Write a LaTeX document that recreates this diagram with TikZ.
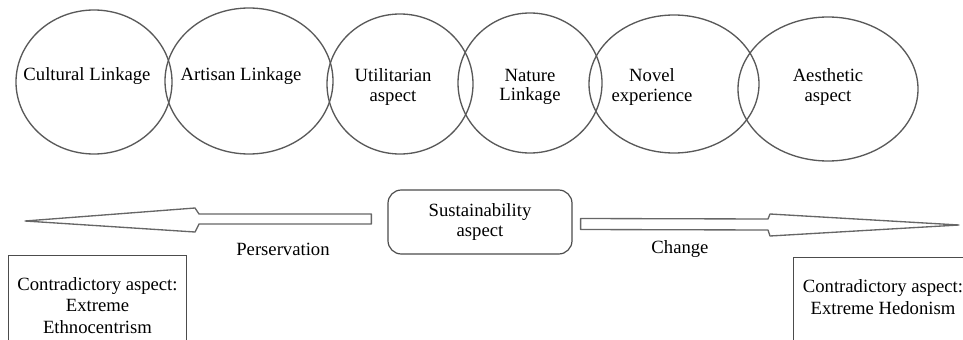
\documentclass[tikz,border=0pt]{standalone}
\usepackage{fontspec}
\setmainfont{Liberation Serif}
\usetikzlibrary{shapes.geometric, calc}

\tikzset{
    blob/.style={draw=black!65, line width=1pt, ellipse, inner sep=0pt},
    fatarrow/.style={draw=black!60, line width=1pt, fill=white, line join=round},
    sidebox/.style={draw=black!70, line width=0.8pt, align=center, anchor=north,
        minimum width=134pt, minimum height=75pt, inner ysep=9pt,
        font=\rmfamily\fontsize{14}{16}\selectfont}
}

\begin{document}
\begin{tikzpicture}[x=0.75pt, y=-0.75pt, every node/.style={font=\rmfamily\fontsize{14}{14.5}\selectfont}]
    % Frame
    \useasboundingbox (0,0) rectangle (963,339);
    \clip (0,0) rectangle (963,339);

    % Ellipses (name/x/y/width/height)
    \foreach \n/\cx/\cy/\w/\h in {cul/94/82/156/144, art/249/81/168/146, uti/400/84/146/140,
        nat/530/83/144/140, nov/674/84/170/138, aes/828/89/180/144}
    {
        \node[blob, minimum width=\w*0.75pt, minimum height=\h*0.75pt] (\n) at (\cx,\cy) {};
    }

    % Texts in the ellipses
    \node[align=center] (cultxt) at (87,76) {Cultural Linkage};
    \node[align=center] (arttxt) at (241,76) {Artisan Linkage};
    \node[align=center] (utitxt) at (393,87) {Utilitarian\\aspect};
    \node[align=center] (nattxt) at (530,87) {Nature\\Linkage};
    \node[align=center] (novtxt) at (652,87) {Novel\\experience};
    \node[align=center] (aestxt) at (828,87) {Aesthetic\\aspect};

    % Middle box
    \node[draw=black!70, line width=0.9pt, rounded corners=10pt, align=center,
        minimum width=138pt, minimum height=48pt] (sus) at (480,222) {Sustainability\\aspect};

    % Arrow ends
    \coordinate (ltail) at ($(sus.west)+(-16,-3)$);
    \coordinate (lbase) at (199,219);
    \coordinate (ltip) at (25,221);
    \coordinate (rtail) at ($(sus.east)+(8,2)$);
    \coordinate (rbase) at (768,224.5);
    \coordinate (rtip) at (959,225);

    % Perservation arrow
    \draw[fatarrow] ($(ltail)+(0,-5)$) -- ($(lbase)+(0,-5)$) -- ($(lbase)+(-4,-11)$)
        -- (ltip) -- ($(lbase)+(-4,13)$) -- ($(lbase)+(0,5)$) -- ($(ltail)+(0,5)$) -- cycle;
    % Change arrow
    \draw[fatarrow] ($(rtail)+(0,-5.5)$) -- ($(rbase)+(0,-5.5)$) -- ($(rbase)+(2,-10.5)$)
        -- (rtip) -- ($(rbase)+(2,11.5)$) -- ($(rbase)+(0,5.5)$) -- ($(rtail)+(0,5.5)$) -- cycle;

    % Arrow labels
    \node (per) at (283,249) {Perservation};
    \node (chg) at (680,249) {Change};

    % Contradictory boxes
    \node[sidebox] (ethno) at (97.5,255) {Contradictory aspect:\\Extreme\\Ethnocentrism};
    \node[sidebox] (hedon) at (883,257) {Contradictory aspect:\\Extreme Hedonism\\\phantom{X}};
\end{tikzpicture}
\end{document}
